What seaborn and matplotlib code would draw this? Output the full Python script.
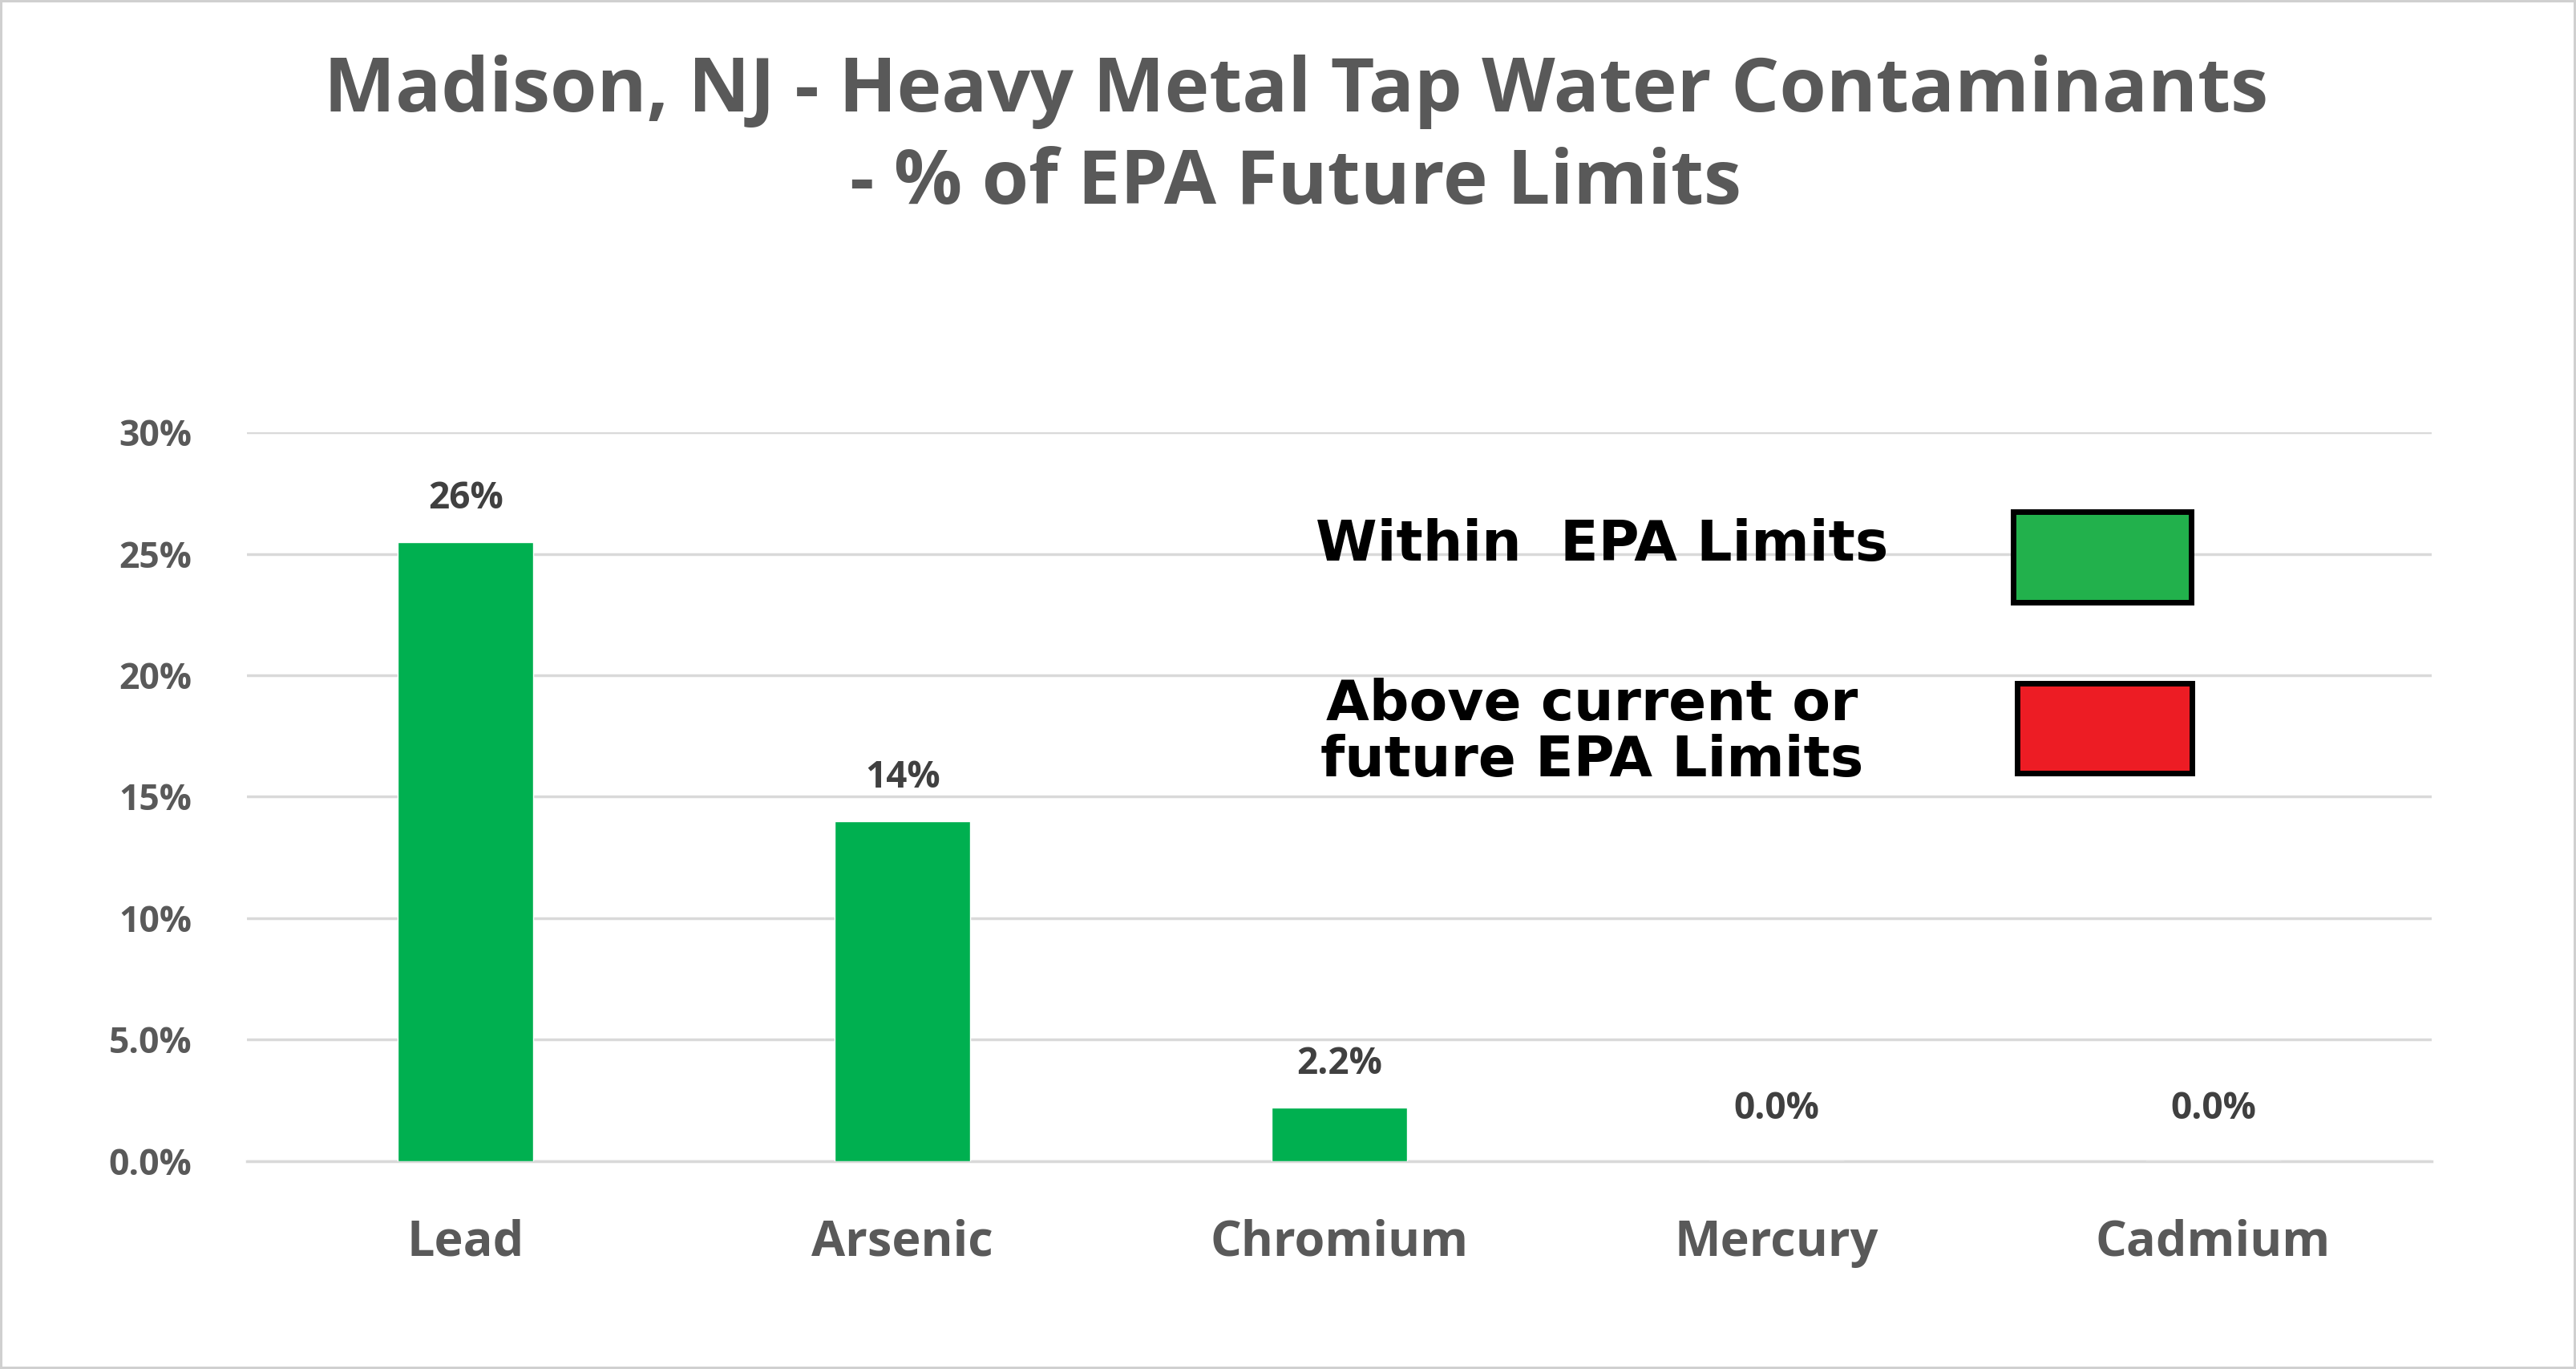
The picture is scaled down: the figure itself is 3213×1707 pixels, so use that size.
import matplotlib
matplotlib.use("Agg")
import matplotlib.pyplot as plt
import seaborn as sns
import pandas as pd
from matplotlib.patches import Rectangle

categories = ["Lead", "Arsenic", "Chromium", "Mercury", "Cadmium"]
values = [25.5, 14.0, 2.2, 0.0, 0.0]
labels = ["26%", "14%", "2.2%", "0.0%", "0.0%"]
yticks = [0, 5, 10, 15, 20, 25, 30]
ytick_labels = ["0.0%", "5.0%", "10%", "15%", "20%", "25%", "30%"]

sns.set_style("white")
plt.rcParams['font.family'] = ['Open Sans', 'DejaVu Sans']
grey = "#595959"
green = "#00B050"

fig = plt.figure(figsize=(32.13, 17.07), dpi=100)
fig.patch.set_edgecolor("#D0D0D0"); fig.patch.set_linewidth(3)
ax = fig.add_axes([0.096, 0.152, 0.848, 0.532])
df = pd.DataFrame({"cat": categories, "val": values})
sns.barplot(data=df, x="cat", y="val", color=green, width=0.31, ax=ax, zorder=3, saturation=1)
ax.set_ylim(0, 30)
ax.set_yticks(yticks)
ax.set_yticklabels(ytick_labels)
ax.yaxis.grid(True, color="#D9D9D9", linewidth=2.5, zorder=0)
ax.set_axisbelow(True)
for s in ["top", "right", "left"]:
    ax.spines[s].set_visible(False)
ax.spines["bottom"].set_color("#D9D9D9"); ax.spines["bottom"].set_linewidth(2.5)
ax.set_xlabel(""); ax.set_ylabel("")
ax.tick_params(axis="y", labelsize=32, colors=grey, length=0, pad=50)
ax.tick_params(axis="x", labelsize=44, colors=grey, length=0, pad=52)
for t in ax.get_xticklabels() + ax.get_yticklabels():
    t.set_fontweight("bold")
for i, (v, l) in enumerate(zip(values, labels)):
    ax.annotate(l, (i, v), xytext=(0, 22 if v > 0 else 30), textcoords="offset points",
                ha="center", va="bottom", fontsize=33, fontweight="bold", color="#404040")

fig.text(0.503, 0.96, "Madison, NJ - Heavy Metal Tap Water Contaminants\n- % of EPA Future Limits",
         ha="center", va="top", fontsize=68, fontweight="bold", color=grey, linespacing=1.3)

lf = ['DejaVu Sans']
fig.text(0.622, 0.602, "Within  EPA Limits", ha="center", va="center", fontsize=50,
         fontweight="bold", family=lf, color="black")
fig.text(0.618, 0.465, "Above current or\nfuture EPA Limits", ha="center", va="center", fontsize=50,
         fontweight="bold", family=lf, color="black", linespacing=1.05)
fig.add_artist(Rectangle((0.7815, 0.560), 0.069, 0.066, transform=fig.transFigure,
                         facecolor="#22B14C", edgecolor="black", linewidth=5))
fig.add_artist(Rectangle((0.783, 0.435), 0.068, 0.066, transform=fig.transFigure,
                         facecolor="#ED1C24", edgecolor="black", linewidth=5))
fig.savefig("out.png", dpi=100)
